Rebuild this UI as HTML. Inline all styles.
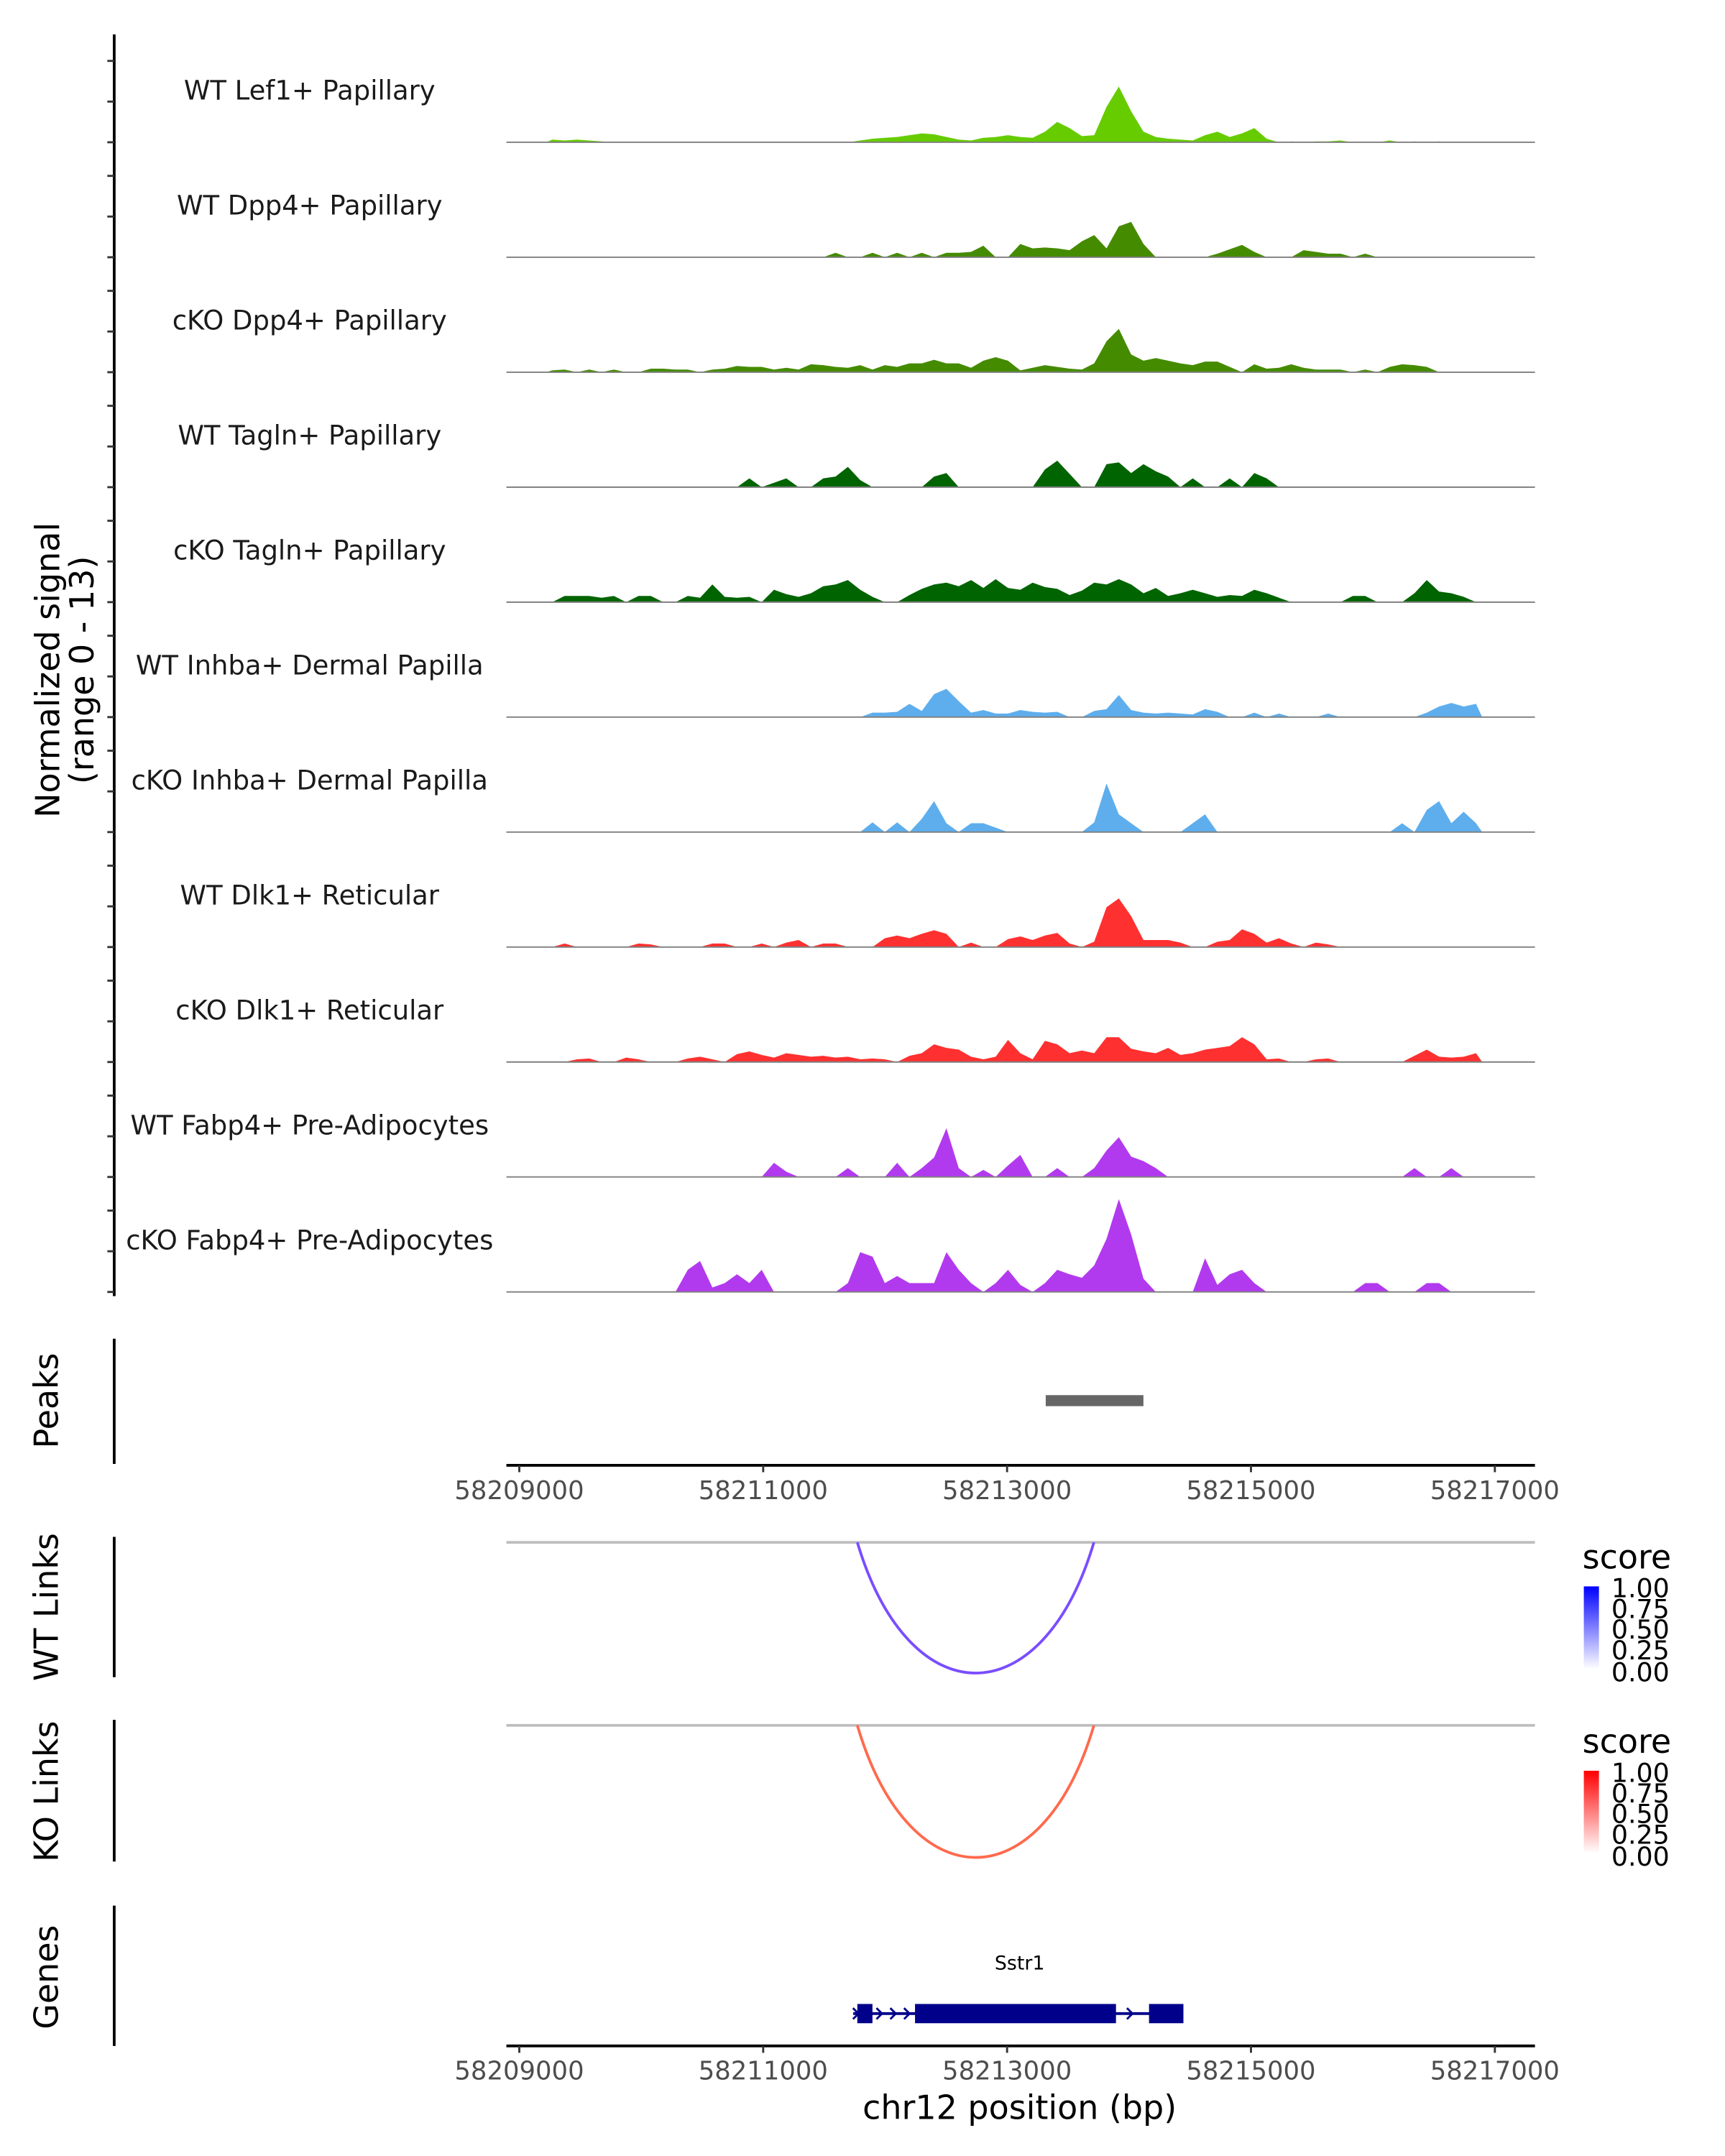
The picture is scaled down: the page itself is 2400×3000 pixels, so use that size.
<!DOCTYPE html>
<html><head><meta charset="utf-8">
<style>
html,body{margin:0;padding:0;background:#fff;}
svg{display:block;}
text{font-family:"DejaVu Sans","Liberation Sans",sans-serif;}
</style></head>
<body>
<svg id="chart" width="2400" height="3000" viewBox="0 0 1253.6 1567" xmlns="http://www.w3.org/2000/svg">
<g id="tracks"></g>
<line x1="83" y1="25" x2="83" y2="942" stroke="#000" stroke-width="2"/>
<g id="yticks"></g>
<text transform="translate(43,487) rotate(-90)" text-anchor="middle" font-size="24" fill="#000">Normalized signal</text>
<text transform="translate(68,487) rotate(-90)" text-anchor="middle" font-size="24" fill="#000">(range 0 - 13)</text>

<line x1="83" y1="973" x2="83" y2="1064" stroke="#000" stroke-width="2"/>
<text transform="translate(42,1018) rotate(-90)" text-anchor="middle" font-size="24">Peaks</text>
<g id="peaks"></g>
<g id="axis1"></g>

<line x1="83" y1="1117" x2="83" y2="1219" stroke="#000" stroke-width="2"/>
<text transform="translate(42,1168) rotate(-90)" text-anchor="middle" font-size="24">WT Links</text>
<line x1="83" y1="1250" x2="83" y2="1353" stroke="#000" stroke-width="2"/>
<text transform="translate(42,1302) rotate(-90)" text-anchor="middle" font-size="24">KO Links</text>
<g id="links"></g>

<defs>
<linearGradient id="gBlue" x1="0" y1="1" x2="0" y2="0"><stop offset="0" stop-color="#ffffff"/><stop offset="1" stop-color="#0000ff"/></linearGradient>
<linearGradient id="gRed" x1="0" y1="1" x2="0" y2="0"><stop offset="0" stop-color="#ffffff"/><stop offset="1" stop-color="#ff0000"/></linearGradient>
</defs>
<g>
<text x="1150" y="1140" font-size="24">score</text>
<rect x="1151" y="1153" width="11" height="60" fill="url(#gBlue)"/>
<g font-size="19"><text x="1171" y="1161">1.00</text><text x="1171" y="1176">0.75</text><text x="1171" y="1191">0.50</text><text x="1171" y="1206">0.25</text><text x="1171" y="1222">0.00</text></g>
</g>
<g>
<text x="1150" y="1274" font-size="24">score</text>
<rect x="1151" y="1287" width="11" height="60" fill="url(#gRed)"/>
<g font-size="19"><text x="1171" y="1295">1.00</text><text x="1171" y="1310">0.75</text><text x="1171" y="1325">0.50</text><text x="1171" y="1340">0.25</text><text x="1171" y="1356">0.00</text></g>
</g>

<line x1="83" y1="1385" x2="83" y2="1487" stroke="#000" stroke-width="2"/>
<text transform="translate(42,1437) rotate(-90)" text-anchor="middle" font-size="24">Genes</text>
<g id="genes"></g>
<g id="axis2"></g>
<text x="741" y="1540" text-anchor="middle" font-size="24">chr12 position (bp)</text>
</svg>
<script>
// ---- data ----
const binStart = 58209220;
const binSize = 101;
const trackNames = ["WT Lef1+ Papillary","WT Dpp4+ Papillary","cKO Dpp4+ Papillary","WT Tagln+ Papillary","cKO Tagln+ Papillary","WT Inhba+ Dermal Papilla","cKO Inhba+ Dermal Papilla","WT Dlk1+ Reticular","cKO Dlk1+ Reticular","WT Fabp4+ Pre-Adipocytes","cKO Fabp4+ Pre-Adipocytes"];
const trackColors = ["#66cc00","#458b00","#458b00","#006400","#006400","#5eaeed","#5eaeed","#ff3030","#ff3030","#b23aee","#b23aee"];
const lef1WT = [0.3,0.2,0.3,0.2,0.1,0, 0,0,0,0,0,0,0,0,0,0,0,0,0,0,0,0,0,0,0,0.2, 0.4,0.5,0.6,0.8,1.0,0.9,0.6,0.3,0.2,0.5,0.6,0.8,0.6,0.5,1.2,2.3,1.6,0.7,0.8,4,6.3,3.5,1.2,0.6,0.4,0.3,0.2,0.8,1.2,0.6,1.0,1.6,0.4,0,0.1,0,0.1,0.1,0.2,0,0,0,0.2,0,0.1,0,0.1,0,0,0];
const dpp4WT = [0,0,0,0,0,0,0,0,0,0,0,0,0,0,0,0,0,0,0,0,0,0,0,0.5,0,0,0.5,0,0.5,0,0.5,0,0.5,0.5,0.6,1.3,0,0,1.5,1.0,1.1,1.0,0.8,1.8,2.5,1.0,3.5,4.0,1.5,0,0,0,0,0,0.4,0.9,1.4,0.6,0,0,0,0.8,0.6,0.4,0.4,0,0.4,0,0,0,0,0,0,0,0,0];
const dpp4KO = [0.2,0.3,0,0.3,0,0.3,0,0,0.4,0.4,0.3,0.3,0,0.3,0.4,0.7,0.6,0.6,0.3,0.5,0.3,0.9,0.8,0.6,0.5,0.8,0.3,0.8,0.6,1.0,1.0,1.4,1.0,1.0,0.5,1.3,1.7,1.3,0.2,0.5,0.8,0.6,0.4,0.3,1.0,3.5,4.9,2.0,1.3,1.6,1.3,1.0,0.8,1.2,1.2,0.6,0,0.9,0.4,0.5,0.9,0.5,0.3,0.3,0.3,0,0.3,0,0.6,0.9,0.8,0.6,0,0,0,0];
const taglnWT = [0,0,0,0,0,0,0,0,0,0,0,0,0,0,0,0,1.0,0,0.5,1.0,0,0,1.0,1.2,2.3,0.8,0,0,0,0,0,1.2,1.6,0,0,0,0,0,0,0,2.0,3.0,1.5,0,0,2.6,2.8,1.6,2.6,1.8,1.2,0,1.0,0,0,1.0,0,1.6,1.0,0,0,0,0,0,0,0,0,0,0,0,0,0,0,0,0,0];
const taglnKO = [0,0.7,0.7,0.7,0.5,0.7,0,0.7,0.7,0,0,0.7,0.5,2.0,0.6,0.5,0.6,0,1.4,0.9,0.6,1.0,1.8,2.0,2.5,1.4,0.6,0,0,0.8,1.5,2.0,2.2,1.8,2.5,1.6,2.6,1.6,1.4,2.2,1.7,1.5,0.8,1.3,2.2,2.0,2.6,2.0,1.0,1.6,0.7,1.0,1.4,1.0,0.6,0.8,0.7,1.4,1.0,0.5,0,0,0,0,0,0.7,0.7,0,0,0,1.0,2.5,1.2,1.0,0.6,0];
const inhbaWT = [0,0,0,0,0,0,0,0,0,0,0,0,0,0,0,0,0,0,0,0,0,0,0,0,0,0,0.5,0.5,0.6,1.5,0.7,2.6,3.2,1.8,0.5,0.8,0.4,0.4,0.8,0.6,0.5,0.6,0,0,0.7,0.9,2.5,0.8,0.5,0.4,0.5,0.4,0.3,0.9,0.6,0,0,0.5,0,0.4,0,0,0,0.4,0,0,0,0,0,0,0,0.5,1.2,1.6,1.2,1.5];
const inhbaKO = [0,0,0,0,0,0,0,0,0,0,0,0,0,0,0,0,0,0,0,0,0,0,0,0,0,0,1.1,0,1.1,0,1.5,3.5,1.0,0,1.0,1.0,0.5,0,0,0,0,0,0,0,1.1,5.5,2.0,1.0,0,0,0,0,1.0,2.0,0,0,0,0,0,0,0,0,0,0,0,0,0,0,0,1.0,0,2.5,3.5,1.0,2.3,1.0];
const dlk1WT = [0,0.4,0,0,0,0,0,0.4,0.3,0,0,0,0,0.4,0.4,0,0,0.4,0,0.5,0.8,0,0.4,0.4,0,0,0,1.0,1.3,1.0,1.5,1.9,1.5,0,0.5,0,0,0.9,1.2,0.8,1.3,1.6,0.4,0,0.6,4.5,5.5,3.5,0.8,0.8,0.8,0.5,0,0,0.6,0.8,2.0,1.5,0.5,1.0,0.4,0,0.5,0.3,0,0,0,0,0,0,0,0,0,0,0,0];
const dlk1KO = [0,0,0.3,0.4,0,0,0.5,0.3,0,0,0,0.4,0.6,0.3,0,0.9,1.2,0.8,0.5,1.0,0.8,0.6,0.7,0.5,0.6,0.3,0.4,0.3,0,0.7,1.0,2.0,1.6,1.4,0.6,0.3,0.6,2.5,1.0,0.3,2.4,2.0,1.0,1.3,1.0,2.8,2.8,1.5,1.2,1.0,1.6,0.8,1.0,1.4,1.6,1.8,2.8,2.0,0.3,0.4,0,0,0.3,0.4,0,0,0,0,0,0,0.7,1.4,0.6,0.5,0.6,1.0];
const fabp4WT = [0,0,0,0,0,0,0,0,0,0,0,0,0,0,0,0,0,0,1.6,0.6,0,0,0,0,1.0,0,0,0,1.6,0,1.0,2.2,5.5,1.0,0,0.8,0,1.3,2.5,0,0,1.0,0,0,1.0,3.0,4.5,2.3,1.8,1.0,0,0,0,0,0,0,0,0,0,0,0,0,0,0,0,0,0,0,0,0,1.0,0,0,1.0,0,0];
const fabp4KO = [0,0,0,0,0,0,0,0,0,0,0,2.5,3.5,0.5,1.0,2.0,1.0,2.5,0,0,0,0,0,0,1.0,4.5,4.0,1.0,1.8,1.0,1.0,1.0,4.5,2.5,1.0,0,1.0,2.5,0.8,0,1.0,2.5,2.0,1.6,3.0,6.0,10.5,6.5,1.5,0,0,0,0,3.8,0.8,2.0,2.5,1.0,0,0,0,0,0,0,0,0,1.0,1.0,0,0,0,1.0,1.0,0,0,0];
const trackValues = [lef1WT,dpp4WT,dpp4KO,taglnWT,taglnKO,inhbaWT,inhbaKO,dlk1WT,dlk1KO,fabp4WT,fabp4KO];
const yMax = 13;
const axisTicks = [58209000,58211000,58213000,58215000,58217000];
const peakRegions = [[58213317,58214118]];
const wtLinks = [[58211772,58213712,0.7]];
const koLinks = [[58211772,58213712,0.7]];
const geneName = "Sstr1";
const geneSpan = [58211738,58214446];
const geneExons = [[58211772,58211896],[58212245,58213893],[58214164,58214446]];
const geneArrows = [58211770,58211963,58212076,58212189,58214017];

// ---- scales ----
const X0=368, X1=1115.5, G0=58208894, PXBP=0.08862;
const xs = g => X0 + (g-G0)*PXBP;
const TRACK_H = 83.56, FIRST_BASE = 103.4;
const ys = (v,base) => base - v/yMax*TRACK_H;
const NS="http://www.w3.org/2000/svg";
function mk(tag,attrs,parent){const e=document.createElementNS(NS,tag);for(const k in attrs)e.setAttribute(k,attrs[k]);parent.appendChild(e);return e;}

const tracksG=document.getElementById('tracks');
const yticksG=document.getElementById('yticks');
trackNames.forEach((name,ti)=>{
  const base = FIRST_BASE + ti*TRACK_H;
  const g=mk('g',{},tracksG);
  
  
  const lab=mk('text',{x:225,y:base-31,'text-anchor':'middle','font-size':'19.3',fill:'#1a1a1a'},g);
  lab.textContent=name;
  
  
  const vals=trackValues[ti];
  let d='M'+xs(binStart).toFixed(2)+','+base;
  vals.forEach((v,i)=>{
    const x0=xs(binStart+i*binSize), x1=xs(binStart+(i+1)*binSize);
    const xm=(x0+x1)/2;
    d+=' L'+xm.toFixed(2)+','+ys(v,base).toFixed(2);
  });
  d+=' L'+xs(binStart+vals.length*binSize).toFixed(2)+','+base+' Z';
  const p=mk('path',{d:d,fill:trackColors[ti],stroke:'none'},g);
  
  
  const bl=mk('line',{x1:X0,x2:X1,y1:base,y2:base,stroke:'#7f7f7f','stroke-width':'1'},g);
  
  
  [0,4.6,9.2].forEach(v=>{
    const yy=base - v/yMax*TRACK_H;
    const t=mk('line',{x1:78,x2:83,y1:yy,y2:yy,stroke:'#333','stroke-width':'1.5'},yticksG);
    
    
  });
});

// peaks
const peaksG=document.getElementById('peaks');
peakRegions.forEach(r=>{
  const rc=mk('rect',{x:xs(r[0]),y:1014,width:xs(r[1])-xs(r[0]),height:8,fill:'#666'},peaksG);
  
  
});

// axes
function drawAxis(id,y){
  const g=document.getElementById(id);
  const l=mk('line',{x1:X0,x2:X1,y1:y,y2:y,stroke:'#000','stroke-width':'2'},g);
  
  
  axisTicks.forEach(t=>{
    const x=xs(t);
    const tk=mk('line',{x1:x,x2:x,y1:y,y2:y+5,stroke:'#333','stroke-width':'1.5'},g);
    
    
    const tl=mk('text',{x:x,y:y+24.5,'text-anchor':'middle','font-size':'18.5',fill:'#4d4d4d'},g);
    tl.textContent=String(t);
    
    
  });
}
drawAxis('axis1',1065);
drawAxis('axis2',1487);

// links
const linksG=document.getElementById('links');
function drawLinks(arr,base,depth,color){
  const bl=mk('line',{x1:X0,x2:X1,y1:base,y2:base,stroke:'#bebebe','stroke-width':'2'},linksG);
  
  
  arr.forEach(l=>{
    const a=xs(l[0]), b=xs(l[1]);
    const cy=base+depth/0.75;
    const p=mk('path',{d:`M${a},${base} C${a+(b-a)*0.22},${cy} ${b-(b-a)*0.22},${cy} ${b},${base}`,fill:'none',stroke:color,'stroke-width':'2'},linksG);
    
    
  });
}
drawLinks(wtLinks,1121,95,'#7a4dff');
drawLinks(koLinks,1254,96,'#ff6a4d');

// genes
const genesG=document.getElementById('genes');
const gy=1463.5;
const gl=mk('line',{x1:xs(geneSpan[0]),x2:xs(geneSpan[1]),y1:gy,y2:gy,stroke:'#00008b','stroke-width':'2'},genesG);


geneExons.forEach(e=>{
  const r=mk('rect',{x:xs(e[0]),y:gy-7,width:xs(e[1])-xs(e[0]),height:14,fill:'#00008b'},genesG);
  
  
});
geneArrows.forEach(g=>{
  const x=xs(g);
  const a=mk('path',{d:`M${x-3},${gy-4} L${x+1},${gy} L${x-3},${gy+4}`,fill:'none',stroke:'#00008b','stroke-width':'1.5'},genesG);
  
  
});
const gt=mk('text',{x:741,y:1431.5,'text-anchor':'middle','font-size':'14',fill:'#000'},genesG);
gt.textContent=geneName;


</script>
</body></html>
